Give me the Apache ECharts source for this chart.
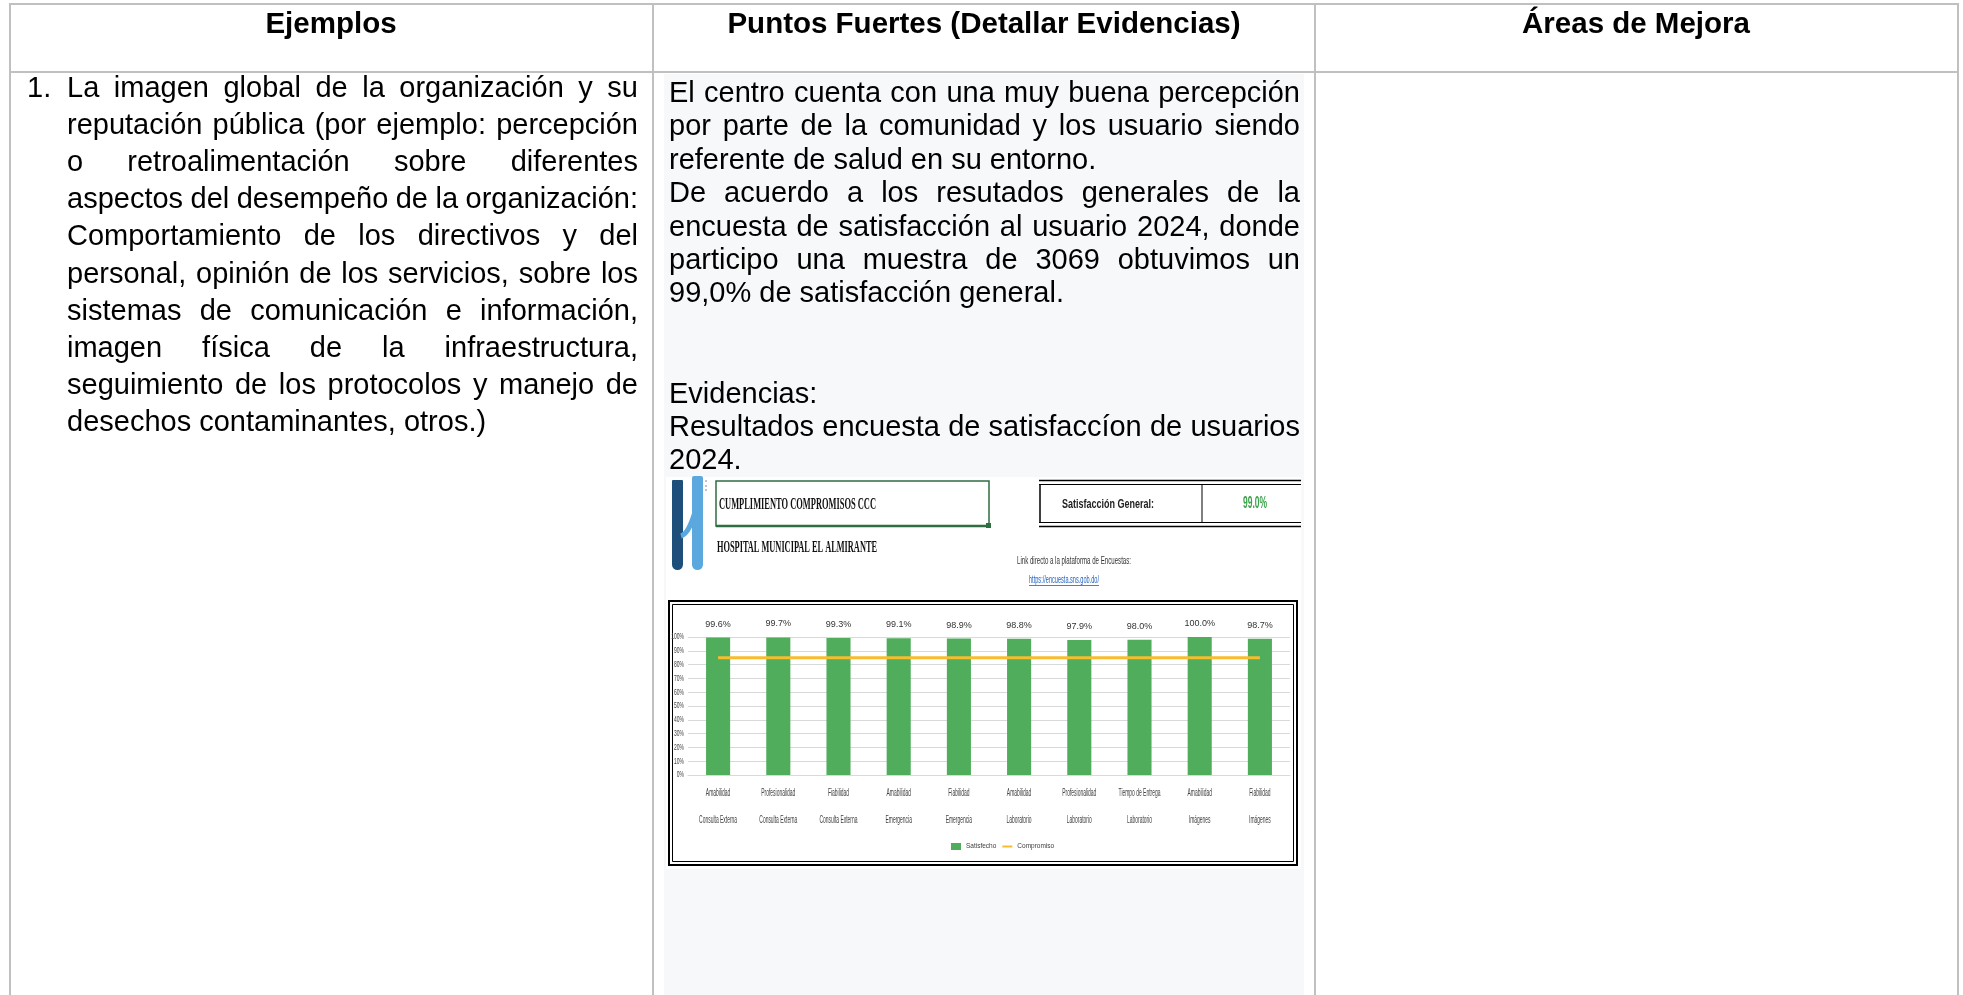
<!DOCTYPE html>
<html><head><meta charset="utf-8">
<script src="https://cdn.jsdelivr.net/npm/echarts@6/dist/echarts.min.js"></script>
<style>html,body{margin:0;padding:0;background:#fff;}#c{width:1963px;height:995px;}</style>
</head><body><div id="c"></div>
<script>
// ---------- data ----------
const headers = ['Ejemplos', 'Puntos Fuertes (Detallar Evidencias)', 'Áreas de Mejora'];
const col1Number = '1.';
const col1Lines = [
  'La imagen global de la organización y su',
  'reputación pública (por ejemplo: percepción',
  'o retroalimentación sobre diferentes',
  'aspectos del desempeño de la organización:',
  'Comportamiento de los directivos y del',
  'personal, opinión de los servicios, sobre los',
  'sistemas de comunicación e información,',
  'imagen física de la infraestructura,',
  'seguimiento de los protocolos y manejo de',
  'desechos contaminantes, otros.)'
];
const col1Justify = [1,1,1,1,1,1,1,1,1,0];
const col2Lines = [
  'El centro cuenta con una muy buena percepción',
  'por parte de la comunidad y los usuario siendo',
  'referente de salud en su entorno.',
  'De acuerdo a los resutados generales de la',
  'encuesta de satisfacción al usuario 2024, donde',
  'participo una muestra de 3069 obtuvimos un',
  '99,0% de satisfacción general.',
  '',
  '',
  'Evidencias:',
  'Resultados encuesta de satisfaccíon de usuarios',
  '2024.'
];
const col2Justify = [1,1,0,1,1,1,0,0,0,0,1,0];
const embedTitle = 'CUMPLIMIENTO COMPROMISOS CCC';
const embedHospital = 'HOSPITAL MUNICIPAL EL ALMIRANTE';
const satLabel = 'Satisfacción General:';
const satValue = '99.0%';
const linkLabel = 'Link directo a la plataforma de Encuestas:';
const linkUrl = 'https://encuesta.sns.gob.do/';
const categoriesTop = ['Amabilidad','Profesionalidad','Fiabilidad','Amabilidad','Fiabilidad','Amabilidad','Profesionalidad','Tiempo de Entrega','Amabilidad','Fiabilidad'];
const categoriesBottom = ['Consulta Externa','Consulta Externa','Consulta Externa','Emergencia','Emergencia','Laboratorio','Laboratorio','Laboratorio','Imágenes','Imágenes'];
const satisfecho = [99.6, 99.7, 99.3, 99.1, 98.9, 98.8, 97.9, 98.0, 100.0, 98.7];
const compromiso = [85, 85, 85, 85, 85, 85, 85, 85, 85, 85];
const yTicks = [0, 10, 20, 30, 40, 50, 60, 70, 80, 90, 100];
const legendNames = ['Satisfecho', 'Compromiso'];

// ---------- chart ----------
const W = 1963, H = 995;
const chart = echarts.init(document.getElementById('c'), null, {renderer: 'canvas', width: W, height: H});
const SANS = '"Liberation Sans", Arial, sans-serif';
const categories = categoriesTop.map((t, i) => t + '\n' + categoriesBottom[i]);

chart.setOption({
  animation: false,
  backgroundColor: '#ffffff',
  grid: {left: 688, top: 637, width: 602, height: 138, containLabel: false},
  xAxis: {
    type: 'category', data: categories,
    axisLine: {lineStyle: {color: '#d9d9d9', width: 1}},
    axisTick: {show: false},
    axisLabel: {show: false}
  },
  yAxis: {
    type: 'value', min: 0, max: 100, interval: 10,
    axisLabel: {show: false},
    splitLine: {lineStyle: {color: '#d9d9d9', width: 1}},
    axisLine: {show: false}, axisTick: {show: false}
  },
  legend: {
    left: 946, top: 838, itemWidth: 10, itemHeight: 7, itemGap: 5, padding: 5,
    textStyle: {fontSize: 6.5, color: '#404040', fontFamily: SANS},
    data: [{name: legendNames[0], icon: 'rect'}, {name: legendNames[1], itemStyle: {opacity: 0}}]
  },
  series: [
    {
      name: legendNames[0], type: 'bar', data: satisfecho, barWidth: '40%',
      itemStyle: {color: '#4fad5b'},
      label: {show: true, position: 'top', distance: 9, fontSize: 9, color: '#333', fontFamily: SANS,
        formatter: p => p.value.toFixed(1) + '%'}
    },
    {
      name: legendNames[1], type: 'line', data: compromiso, symbol: 'none',
      lineStyle: {color: '#f7bd2f', width: 3}, itemStyle: {color: '#f7bd2f'}, z: 3
    }
  ]
});

// ---------- document / table graphics ----------
const ctx = document.createElement('canvas').getContext('2d');
function measure(t, font) { ctx.font = font; return ctx.measureText(t).width; }
function txt(x, y, text, font, fill, align, extra) {
  return Object.assign({
    type: 'text', x: x, y: y, z: 50,
    style: {text: text, font: font, fill: fill || '#000', textAlign: align || 'left', textVerticalAlign: 'middle',
            align: align || 'left', verticalAlign: 'middle'}
  }, extra || {});
}
// text squeezed horizontally to a target width (the embedded screenshot is compressed)
function fitTxt(x, y, text, font, fill, align, targetW) {
  return txt(x, y, text, font, fill, align, {scaleX: targetW / measure(text, font)});
}
function justified(lines, flags, x0, x1, y0, lh, font, els) {
  lines.forEach((line, i) => {
    const y = y0 + i * lh;
    if (!line) return;
    const words = line.split(' ');
    if (!flags[i] || words.length < 2) { els.push(txt(x0, y, line, font)); return; }
    const ws = words.map(w => measure(w, font));
    const tot = ws.reduce((a, b) => a + b, 0);
    const gap = (x1 - x0 - tot) / (words.length - 1);
    let x = x0;
    words.forEach((w, k) => { els.push(txt(x, y, w, font)); x += ws[k] + gap; });
  });
}

const els = [];
const BORDER = '#c0c0c0';
// middle column background
els.push({type: 'rect', z: -10, shape: {x: 664, y: 74, width: 640, height: 930}, style: {fill: '#f7f8fa'}});
// embedded image white background
els.push({type: 'rect', z: -9, shape: {x: 666, y: 477, width: 635, height: 392}, style: {fill: '#ffffff'}});
// table lines
function hline(x1, x2, y, w, c) { return {type: 'line', z: 40, shape: {x1: x1, y1: y, x2: x2, y2: y}, style: {stroke: c || BORDER, lineWidth: w || 2}}; }
function vline(x, y1, y2, w, c) { return {type: 'line', z: 40, shape: {x1: x, y1: y1, x2: x, y2: y2}, style: {stroke: c || BORDER, lineWidth: w || 2}}; }
els.push(hline(9, 1959, 4));
els.push(hline(9, 1959, 72));
els.push(vline(10, 3, 995));
els.push(vline(653, 3, 995));
els.push(vline(1315, 3, 995));
els.push(vline(1958, 3, 995));
// headers
const HF = 'bold 29.5px ' + SANS;
els.push(txt(331, 24.5, headers[0], HF, '#000', 'center'));
els.push(txt(984, 24.5, headers[1], HF, '#000', 'center'));
els.push(txt(1636, 24.5, headers[2], HF, '#000', 'center'));
// body text
const BF = '29px ' + SANS;
els.push(txt(27, 89, col1Number, BF));
justified(col1Lines, col1Justify, 67, 638, 89, 37.1, BF, els);
justified(col2Lines, col2Justify, 669, 1300, 94, 33.4, BF, els);

// ---------- embedded screenshot header ----------
// logo
els.push({type: 'rect', z: 20, shape: {x: 672, y: 480, width: 11, height: 90, r: [1, 1, 6, 6]}, style: {fill: '#1d4f7a'}});
els.push({type: 'rect', z: 20, shape: {x: 692, y: 476, width: 11, height: 94, r: [2, 2, 6, 6]}, style: {fill: '#5aa8de'}});
els.push({type: 'bezierCurve', z: 21, shape: {x1: 681, y1: 536, cpx1: 688, cpy1: 534, cpx2: 692, cpy2: 522, x2: 695, y2: 512}, style: {stroke: '#5aa8de', lineWidth: 5, fill: null}});
[481, 486, 490].forEach(y => els.push({type: 'circle', z: 21, shape: {cx: 706, cy: y, r: 0.9}, style: {fill: '#9aa7b5'}}));
// title box
els.push({type: 'rect', z: 20, shape: {x: 716, y: 481, width: 273, height: 45}, style: {fill: 'none', stroke: '#2f6e40', lineWidth: 1.5}});
els.push(hline(716, 989, 526, 2.5, '#2f6e40'));
els.push({type: 'rect', z: 21, shape: {x: 986, y: 523, width: 5, height: 5}, style: {fill: '#2f6e40'}});
const SERIF = '"Liberation Serif", serif';
els.push(fitTxt(719, 505, embedTitle, 'bold 17px ' + SERIF, '#111', 'left', 157));
els.push(fitTxt(717, 548, embedHospital, 'bold 16px ' + SERIF, '#111', 'left', 160));
// satisfaction box
els.push(hline(1039, 1301, 480.5, 1.5, '#000'));
els.push(hline(1039, 1301, 484.5, 1.2, '#000'));
els.push(hline(1039, 1301, 522.5, 1.2, '#000'));
els.push(hline(1039, 1301, 526.5, 1.5, '#000'));
els.push(vline(1040, 484, 523, 1.5, '#000'));
els.push(vline(1202, 484, 523, 1, '#000'));
els.push(fitTxt(1108, 504, satLabel, 'bold 13px ' + SANS, '#222', 'center', 92));
els.push(fitTxt(1255, 504, satValue, 'bold 16px ' + SANS, '#3aa14a', 'center', 24));
// link
els.push(fitTxt(1074, 561, linkLabel, '10px ' + SANS, '#333', 'center', 114));
els.push(fitTxt(1064, 580, linkUrl, '10px ' + SANS, '#1f5fbf', 'center', 70));
els.push(hline(1029, 1099, 585.5, 0.8, '#1f5fbf'));
// chart frame (double border)
els.push({type: 'rect', z: 20, shape: {x: 669, y: 601, width: 628, height: 264}, style: {fill: 'none', stroke: '#000', lineWidth: 2}});
els.push({type: 'rect', z: 20, shape: {x: 672.5, y: 604.5, width: 621, height: 257}, style: {fill: 'none', stroke: '#000', lineWidth: 1}});

// axis labels positioned through the library's axis scales
const XF = '11px ' + SANS;
categoriesTop.forEach((t, i) => {
  const px = chart.convertToPixel({xAxisIndex: 0}, i);
  els.push(txt(px, 793, t, XF, '#404040', 'center', {scaleX: 0.45}));
  els.push(txt(px, 820, categoriesBottom[i], XF, '#404040', 'center', {scaleX: 0.45}));
});
yTicks.forEach(v => {
  const py = chart.convertToPixel({yAxisIndex: 0}, v);
  els.push(txt(684, py, v + '%', '9px ' + SANS, '#404040', 'right', {scaleX: 0.55}));
});

chart.setOption({graphic: {elements: els}});
</script>
</body></html>
